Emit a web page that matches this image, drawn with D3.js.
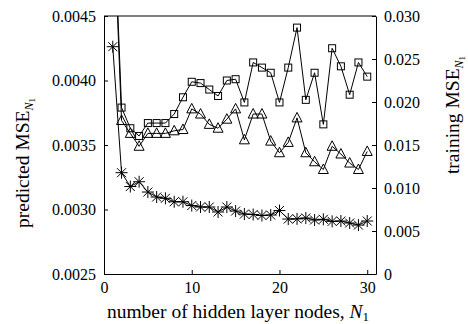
<!DOCTYPE html>
<html><head><meta charset="utf-8">
<script src="https://cdn.jsdelivr.net/npm/d3@7"></script>
<style>
html,body{margin:0;padding:0;background:#fff;}
text{font-family:"Liberation Serif","Times New Roman",serif;fill:#000;}
</style></head>
<body><svg id="chart" width="468" height="324"></svg>
<script>
const nodes = d3.range(1, 31);
const predictedSquares = [0.00552,0.00379,0.00363,0.00357,0.00367,0.00367,0.00367,0.00374,0.00387,0.00399,
  0.00398,0.00393,0.00388,0.00400,0.00401,0.00383,0.00414,0.00410,0.00406,0.00383,
  0.00410,0.00441,0.00385,0.00406,0.00366,0.00425,0.00411,0.00389,0.00414,0.00403];
const predictedTriangles = [0.00545,0.00369,0.00359,0.00349,0.00359,0.00359,0.00359,0.00361,0.00362,0.00378,
  0.00374,0.00366,0.00363,0.00370,0.00378,0.00354,0.00374,0.00374,0.00353,0.00344,
  0.00352,0.00371,0.00344,0.00337,0.00331,0.00349,0.00343,0.00336,0.00331,0.00345];
const trainingStars = [0.02643,0.01178,0.01017,0.01073,0.00953,0.00895,0.00880,0.00840,0.00840,0.00796,
  0.00779,0.00779,0.00721,0.00779,0.00732,0.00697,0.00692,0.00680,0.00686,0.00738,
  0.00639,0.00641,0.00651,0.00628,0.00636,0.00612,0.00616,0.00593,0.00569,0.00616];
const xTicks = [0, 10, 20, 30];
const leftTicks = [0.0025, 0.0030, 0.0035, 0.0040, 0.0045];
const rightTicks = [0, 0.005, 0.010, 0.015, 0.020, 0.025, 0.030];

const svg = d3.select("#chart");
const L = 104, R = 376, T = 16, B = 274;
const x = d3.scaleLinear().domain([0, 31]).range([L, R]);
const yL = d3.scaleLinear().domain([0.0025, 0.0045]).range([B, T]);
const yR = d3.scaleLinear().domain([0, 0.030]).range([B, T]);

svg.append("defs").append("clipPath").attr("id","clip")
  .append("rect").attr("x",L).attr("y",T).attr("width",R-L).attr("height",B-T);

const fs = "16px";
const axL = svg.append("g").attr("transform",`translate(${L},0)`)
  .call(d3.axisLeft(yL).tickValues(leftTicks).tickFormat(d3.format(".4f")).tickSizeInner(-4).tickSizeOuter(0).tickPadding(8));
const axR = svg.append("g").attr("transform",`translate(${R},0)`)
  .call(d3.axisRight(yR).tickValues(rightTicks).tickFormat(d => d === 0 ? "0" : d3.format(".3f")(d)).tickSizeInner(-4).tickSizeOuter(0).tickPadding(8));
const axB = svg.append("g").attr("transform",`translate(0,${B})`)
  .call(d3.axisBottom(x).tickValues(xTicks).tickFormat(d3.format("d")).tickSizeInner(-4).tickSizeOuter(0).tickPadding(8));
[axL, axR, axB].forEach(a => {
  a.attr("font-family", null);
  a.selectAll("text").style("font-size", fs).style("font-family","'Liberation Serif', serif");
  a.selectAll("line,path").attr("stroke","#000");
});
svg.append("line").attr("x1",L).attr("x2",R).attr("y1",T).attr("y2",T).attr("stroke","#000");

const plot = svg.append("g").attr("clip-path","url(#clip)");
function series(vals, yScale){
  return nodes.map((n,i)=>({x:n, y:vals[i], ys:yScale}));
}
const sq = series(predictedSquares, yL), tr = series(predictedTriangles, yL), st = series(trainingStars, yR);
const line = d3.line().x(d=>x(d.x)).y(d=>d.ys(d.y));
[sq, tr, st].forEach(s => plot.append("path").datum(s).attr("d", line)
  .attr("fill","none").attr("stroke","#000").attr("stroke-width",1));

plot.selectAll(".sq").data(sq).join("rect")
  .attr("x", d=>x(d.x)-3.5).attr("y", d=>d.ys(d.y)-3.5).attr("width",7).attr("height",7)
  .attr("fill","none").attr("stroke","#000").attr("stroke-width",1);
plot.selectAll(".tr").data(tr).join("path")
  .attr("d", d=>{const cx=x(d.x), cy=d.ys(d.y); return `M${cx},${cy-5.5}L${cx+5},${cy+4}L${cx-5},${cy+4}Z`;})
  .attr("fill","none").attr("stroke","#000").attr("stroke-width",1);
plot.selectAll(".st").data(st).join("path")
  .attr("d", d=>{const cx=x(d.x), cy=d.ys(d.y), r=6, q=4.5;
    return `M${cx-r},${cy}L${cx+r},${cy}M${cx},${cy-r}L${cx},${cy+r}M${cx-q},${cy-q}L${cx+q},${cy+q}M${cx-q},${cy+q}L${cx+q},${cy-q}`;})
  .attr("fill","none").attr("stroke","#000").attr("stroke-width",1);

const tf = "19.5px";
const xt = svg.append("text").attr("x", 238).attr("y", 318).attr("text-anchor","middle").style("font-size",tf);
xt.append("tspan").text("number of hidden layer nodes, ");
xt.append("tspan").attr("font-style","italic").text("N");
xt.append("tspan").attr("dy",3).style("font-size","13px").text("1");

const yl = svg.append("text").attr("transform","translate(29,163) rotate(-90)").attr("text-anchor","middle").style("font-size",tf);
yl.append("tspan").text("predicted MSE");
yl.append("tspan").attr("dy",4).attr("font-style","italic").style("font-size","12px").text("N");
yl.append("tspan").attr("dy",2).style("font-size","9px").text("1");

const yr = svg.append("text").attr("transform","translate(459,115) rotate(-90)").attr("text-anchor","middle").style("font-size",tf);
yr.append("tspan").text("training  MSE");
yr.append("tspan").attr("dy",4).attr("font-style","italic").style("font-size","12px").text("N");
yr.append("tspan").attr("dy",2).style("font-size","9px").text("1");
</script></body></html>
